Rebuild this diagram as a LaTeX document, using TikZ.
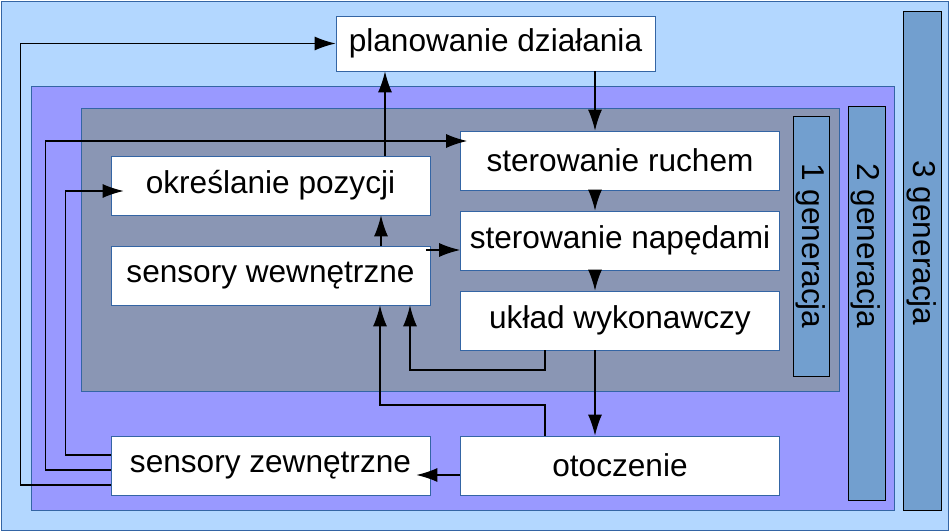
\documentclass[tikz,border=0pt]{standalone}
\usepackage{fontspec}
\setmainfont{Liberation Sans}
\usetikzlibrary{arrows.meta}
\definecolor{outerbg}{HTML}{B3D7FF}
\definecolor{midbg}{HTML}{9999FF}
\definecolor{innerbg}{HTML}{8A96B4}
\definecolor{barfill}{HTML}{729FCF}
\definecolor{frame}{HTML}{3465A4}
\begin{document}
\begin{tikzpicture}[x=1pt,y=-1pt,line width=1.2pt,>={Latex[length=21pt,width=14pt]},
  font=\fontsize{31.6}{36}\selectfont,
  area/.style={draw=frame,line width=.8pt},
  box/.style={draw=frame,fill=white,line width=.8pt,minimum width=319pt,
    minimum height=59pt,inner sep=0pt},
  genbar/.style={draw=black,fill=barfill,line width=.9pt},
  gentext/.style={rotate=-90,inner sep=0pt}]
  \useasboundingbox (0,0) rectangle (951,532);
  % nested areas of the three generations
  \draw[area,fill=outerbg] (1,1) rectangle (948,530);
  \draw[area,fill=midbg] (31,86) rectangle (894,510);
  \draw[area,fill=innerbg] (81,108) rectangle (839,391);
  \draw[genbar] (793,116) rectangle (829,376);
  \draw[genbar] (848,106) rectangle (885,500);
  \draw[genbar] (903,11) rectangle (941,510);
  \node[gentext] (gen1) at (811,246) {1 generacja};
  \node[gentext] (gen2) at (866,246) {2 generacja};
  \node[gentext] (gen3) at (922,243) {3 generacja};
  % blocks
  \node[box,minimum height=55pt] (plan) at (495.5,43.5) {planowanie działania};
  \node[box] (ruch) at (620,160.5) {sterowanie ruchem};
  \node[box] (poz) at (270.5,185.5) {określanie pozycji};
  \node[box] (nap) at (620,240.5) {sterowanie napędami};
  \node[box] (wew) at (270.5,275.5) {sensory wewnętrzne};
  \node[box] (wyk) at (620,320.5) {układ wykonawczy};
  \node[box] (oto) at (620,465.5) {otoczenie};
  \node[box] (zew) at (270.5,465.5) {sensory zewnętrzne};
  \coordinate (wewout) at (426,250);
  % connections
  \draw[->] (595,0 |- plan.south) -- (595,0 |- ruch.north);
  \draw[->] (595,0 |- ruch.south) -- (595,0 |- nap.north);
  \draw[->] (595,0 |- nap.south) -- (595,0 |- wyk.north);
  \draw[->] (595,0 |- wyk.south) -- (595,0 |- oto.north);
  \draw[->] ([yshift=-9.5pt]oto.west) -- ([yshift=-9.5pt,xshift=-14pt]zew.east);
  \draw[->] ([yshift=-19.5pt]zew.west) -- ++(-90,0) |- (plan.west);
  \draw[->] ([yshift=-4.5pt]zew.west) -- ++(-65,0) |- ([yshift=19.5pt,xshift=7pt]ruch.west);
  \draw[->] ([yshift=10.5pt]zew.west) -- ++(-45,0) |- ([yshift=-5.5pt,xshift=13pt]poz.west);
  \draw[->] (385,0 |- poz.north) -- (385,0 |- plan.south);
  \draw[->] (381,0 |- wew.north) -- (381,0 |- poz.south);
  \draw[->] (wewout) -- (wewout -| nap.west);
  \draw[->] (545,0 |- wyk.south) -- (545,370) -| (410,0 |- wew.south);
  \draw[->] (545,0 |- oto.north) -- (545,405) -| (380,0 |- wew.south);
\end{tikzpicture}
\end{document}
